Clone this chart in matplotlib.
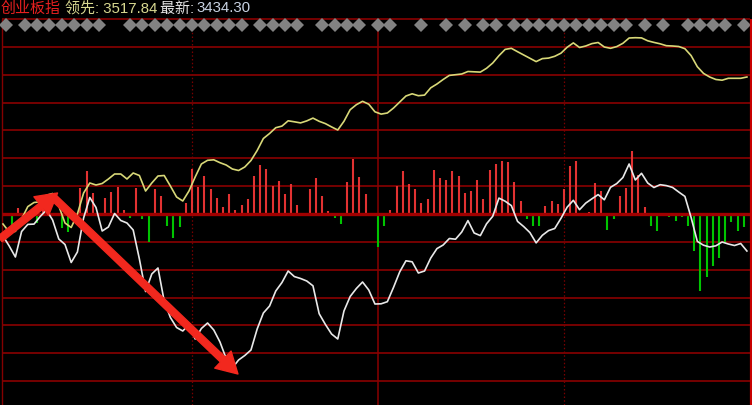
import matplotlib
matplotlib.use('Agg')
import matplotlib.pyplot as plt
import numpy as np

# ---------------- data ----------------
# minutes of the trading day sampled every 2 minutes (0..240)
line_minutes = list(range(0, 241, 2))

# 领先 (leading index) line, change units (1 grid = 27.86)
yellow_lead = [
    -10, -18, -17.4, -5, 7.4, 11.5, 12.2, 18.7, 20.5, 8,
    -9, -13.5, 0, 21, 31, 29, 30.5, 35, 40, 40,
    35, 41, 38.5, 23, 31, 38, 38.5, 28, 17, 13,
    23, 37, 50, 53.7, 54.2, 51.3, 49, 45, 43.5, 47,
    53.5, 63.5, 75.5, 80.5, 86.3, 87.9, 93.2, 92.2, 91.1, 93.1,
    95.9, 92.7, 90.4, 87.1, 84, 92.7, 104.3, 109.3, 112.7, 109.8,
    102.2, 99.9, 101, 106, 112, 118, 120.2, 118.3, 118.9, 126.2,
    130, 134.5, 138.6, 139.3, 140, 142.5, 142.2, 141.9, 145.7, 151,
    158.3, 164.6, 165.7, 162.3, 159, 155.7, 152.4, 155.4, 155.9, 157.7,
    160.8, 166.7, 171.1, 166.5, 168, 170.4, 171.5, 167, 165.7, 167.4,
    170.7, 176, 176.3, 176.1, 173.2, 171.6, 170.2, 168.3, 168, 167.5,
    165.3, 158.4, 147.3, 140.6, 137, 134.5, 133.8, 135.7, 135.7, 135.7, 137,
]

# 最新 (latest) line
white_last = [
    -22, -32, -43, -17.5, -10.4, -10.1, -2.5, 4, -6, -25,
    -30.5, -48.5, -38, -4, 16.5, 6.5, -17, -13, 0.5, -6.5,
    -9, -16, -45, -77.5, -60, -54, -87, -103.5, -113.5, -117,
    -110.5, -125, -114.5, -109, -116, -128, -144.5, -154, -146, -141.5,
    -136, -115, -99, -92, -77, -68.5, -57, -62.6, -64.5, -67,
    -71.8, -99.7, -110.4, -120, -125, -97, -82.5, -74.5, -68, -76,
    -90, -89.8, -87.7, -73.3, -57.8, -46.8, -47.8, -59, -57, -44,
    -34.6, -31, -24.5, -25.2, -18, -6.6, -19, -21.6, -9.8, -2.3,
    15.9, 12.8, 8.4, -7.4, -12.6, -18.6, -28.9, -21.3, -16.6, -14.5,
    -4.4, 6.8, 13.7, 4.3, 10.9, 15.2, 19.4, 14.2, 26.7, 30.4,
    36.5, 50, 34, 40.7, 31, 26.5, 29.3, 28.4, 26.6, 22,
    17.6, -3.5, -27.4, -31.2, -33, -31.8, -28, -30, -31.5, -29.5, -37,
]

# bar minutes (odd minutes 3..239) and bar values (red up / green down)
bar_minutes = list(range(3, 240, 2))
bar_values = [
    -13, 6, 0, 0, -8.5, 5, 6, 0, -14, -18,
    0, 26, 43, 21, 0, 16, 22.5, 27.3, 4.3, -4,
    25.7, -5, -28, 25, 17.7, -12.3, -24.3, -13.3, 10.7, 45,
    27.5, 37.7, 25, 16.3, 6.7, 20, 3.7, 9, 15, 38.3,
    49, 45, 28.3, 33, 20, 29.7, 9, -1.5, 25, 35.7,
    17.7, 3.3, -3.5, -10, 31.7, 55, 37, 20, -1.5, -33.3,
    -11.7, 4, 27.7, 43, 29.7, 25, 11, 15, 44, 35.7,
    34.3, 43, 38.3, 21.5, 23.5, 34.3, 15, 44, 50, 53.3,
    52.3, 31.7, 12.7, -4.7, -12, -12, 8, 12.7, 10.3, 25,
    47.7, 53.3, 0, 2, 31, 23.3, -15.7, -4.7, 17.7, 25.8,
    63.3, 39, 6.7, -11.7, -16.7, 1, -2.7, -6.7, -3.3, -11.7,
    -36.7, -76.7, -63.3, -51.7, -44, -27.5, -8.3, -16.7, -13.3,
]

# minutes carrying a signal diamond in the top row
signal_minutes = [1, 7, 11, 15, 19, 23, 27, 31, 41, 45, 49, 53, 57, 61, 65, 69,
                  73, 77, 83, 87, 91, 95, 103, 107, 111, 115, 121, 125, 135, 143,
                  149, 155, 159, 165, 169, 173, 177, 181, 185, 189, 193, 197, 201,
                  207, 213, 221, 225, 229, 233, 239]

# header texts
title_name = '创业板指'
lead_label = '领先: 3517.84'
last_label = '最新: '
last_value = '3434.30'

# annotation arrows (tail minute, tail value, tip minute, tip value)
arrows = [(-1.0, -25, 17.6, 21), (15.8, 18, 75.8, -160)]

# ---------------- layout ----------------
W, H = 752, 406
PX0, PXW = 3.0, 3.0996          # pixel of minute 0, pixels per minute
TOP_V, BOT_V = 215, -191        # value at top/bottom pixel rows
GRID = 27.86


def to_min(px):
    return (px - PX0) / PXW


fig = plt.figure(figsize=(W / 100, H / 100), dpi=100)
fig.patch.set_facecolor('black')
ax = fig.add_axes([0, 0, 1, 1])
ax.set_facecolor('black')
ax.set_axis_off()
ax.set_xlim(to_min(0), to_min(W))
ax.set_ylim(BOT_V, TOP_V)

grid_col = '#840000'
x_left, x_right = to_min(2), to_min(750)
for j in range(-6, 8):
    if j == 0:
        continue
    ax.hlines(GRID * j, x_left, x_right, color=grid_col, lw=1.25, zorder=1)

top_v = GRID * 7
# vertical lines
ax.vlines(x_left, BOT_V, top_v, color=grid_col, lw=1.0, zorder=1)
ax.vlines(121, BOT_V, top_v, color='#8a0000', lw=1.1, zorder=1)
for m in (61, 181):
    ax.vlines(m, BOT_V, top_v, color='#7a0000', lw=0.9, linestyles=(0, (1.2, 1.8)), zorder=1)
ax.vlines(to_min(750.6), BOT_V, top_v, color='#c80000', lw=1.6, zorder=6)

# bars
bv = np.array(bar_values, dtype=float)
bm = np.array(bar_minutes, dtype=float)
red_mask = bv > 0
ax.vlines(bm[red_mask], 0, bv[red_mask], colors='#e23232', lw=1.5, zorder=2)
ax.vlines(bm[~red_mask], 0, bv[~red_mask], colors='#00c400', lw=1.5, zorder=2)

# zero line
ax.hlines(0, x_left, x_right, color='#a00000', lw=2.4, zorder=3)

# lines
ax.plot(line_minutes, yellow_lead, color='#d8d878', lw=1.2, zorder=5)
ax.plot(line_minutes, white_last, color='#e8e8e8', lw=1.2, zorder=5)

# signal diamonds
DIAMOND_V = 215 - 25.5
ax.plot(signal_minutes, [DIAMOND_V] * len(signal_minutes), linestyle='none',
        marker='D', ms=7.0, color='#828282', mew=0, zorder=4)

# arrows
for (x0, y0, x1, y1) in arrows:
    ax.annotate('', xy=(x1, y1), xytext=(x0, y0),
                arrowprops=dict(arrowstyle='simple,head_length=1.5,head_width=1.7,tail_width=0.5',
                                color='#f2281e', shrinkA=0, shrinkB=0, mutation_scale=10),
                zorder=8, annotation_clip=False)

# header
fam = ['Liberation Sans', 'Noto Sans CJK SC', 'DejaVu Sans']
fs = 10.8
base_y = 1 - 12.5 / H


def htext(px, s, col):
    fig.text(px / W, base_y, s, color=col, fontsize=fs, family=fam, va='baseline', ha='left')


htext(1, title_name, '#e82020')
htext(65, lead_label, '#d8d890')
htext(160, last_label, '#e6e6e6')
htext(196.5, last_value, '#c8d2e2')

fig.savefig('out.png', dpi=100, facecolor='black')
